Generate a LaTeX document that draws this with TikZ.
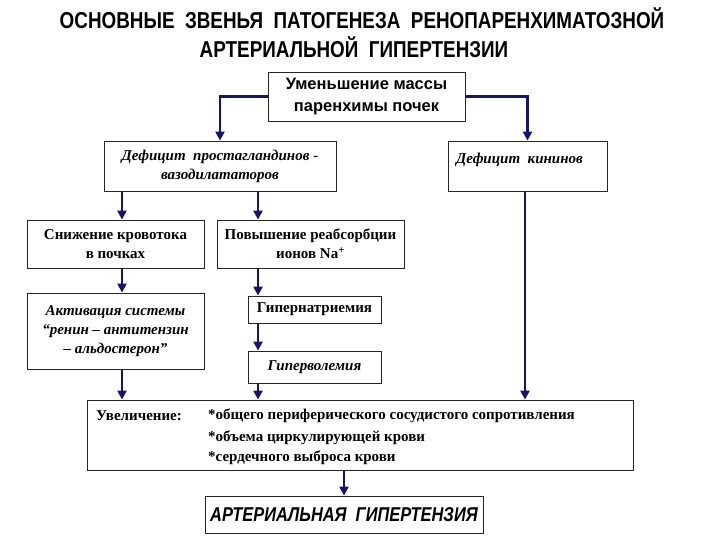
\documentclass[tikz,border=0pt]{standalone}
\usepackage{fontspec}
\setmainfont{Liberation Serif}
\newfontfamily\narrowsans[FakeStretch=0.82]{Liberation Sans}
\newfontfamily\plainsans{Liberation Sans}
\usetikzlibrary{arrows.meta}
\definecolor{navy}{RGB}{20,20,110}
\tikzset{
  box/.style={draw=black!85, line width=0.8pt, fill=white, inner sep=2pt, align=center},
  arr/.style={draw=navy, line width=2.8pt, -{Triangle[length=9pt,width=9pt]}},
  ser/.style={font=\fontsize{15}{19}\selectfont\bfseries},
  seri/.style={font=\fontsize{15}{19}\selectfont\bfseries\itshape},
  txt/.style={inner sep=0pt, anchor=west}
}
\begin{document}
\begin{tikzpicture}[x=1pt,y=-1pt]
\useasboundingbox[fill=white] (0,0) rectangle (720,540);
% title
\node[inner sep=0pt, font=\narrowsans\fontsize{23}{27}\selectfont\bfseries] (t1) at (362,18) {ОСНОВНЫЕ\ \ ЗВЕНЬЯ\ \ ПАТОГЕНЕЗА\ \ РЕНОПАРЕНХИМАТОЗНОЙ};
\node[inner sep=0pt, font=\narrowsans\fontsize{23}{27}\selectfont\bfseries] (t2) at (354,47) {АРТЕРИАЛЬНОЙ\ \ ГИПЕРТЕНЗИИ};
% boxes
\node[box, minimum width=197, minimum height=49, font=\plainsans\fontsize{16.5}{22}\selectfont\bfseries] (top) at (366.5,96.5) {Уменьшение массы\\паренхимы почек};
\node[box, seri, minimum width=232, minimum height=50] (prost) at (220,166) {Дефицит\ \ простагландинов -\\вазодилататоров};
\node[box, minimum width=159, minimum height=50] (kinin) at (527.5,166) {};
\node[txt, seri] (kinint) at (456,160) {Дефицит\ \ кининов};
\node[box, ser, minimum width=177, minimum height=48] (snizh) at (115.5,244) {Снижение кровотока\\в почках};
\node[box, ser, minimum width=187, minimum height=48] (povysh) at (310.5,244) {Повышение реабсорбции\\ионов Na\textsuperscript{+}};
\node[box, seri, minimum width=177, minimum height=76] (aktiv) at (115.5,331) {Активация системы\\“ренин – антитензин\\– альдостерон”};
\node[box, ser, minimum width=133, minimum height=27] (gipernat) at (314.5,309.5) {Гипернатриемия};
\node[box, seri, minimum width=133, minimum height=32] (gipervol) at (314.5,367) {Гиперволемия};
\node[box, minimum width=546, minimum height=70] (big) at (360,435) {};
\node[txt, ser] (uvel) at (96,416) {Увеличение:};
\node[txt, ser] (i1) at (208,416) {*общего периферического сосудистого сопротивления};
\node[txt, ser] (i2) at (208,438) {*объема циркулирующей крови};
\node[txt, ser] (i3) at (208,458) {*сердечного выброса крови};
\node[box, minimum width=278, minimum height=37, font=\narrowsans\fontsize{20}{24}\selectfont\bfseries\itshape] (final) at (344,514.5) {АРТЕРИАЛЬНАЯ\ \ ГИПЕРТЕНЗИЯ};
% arrow columns
\coordinate (xa) at (122,0);
\coordinate (xb) at (258,0);
\coordinate (xc) at (525,0);
% connectors
\draw[arr] (top.west) -| (prost.north);
\draw[arr] (top.east) -| (kinin.north);
\draw[arr] (prost.south -| xa) -- (snizh.north -| xa);
\draw[arr] (snizh.south -| xa) -- (aktiv.north -| xa);
\draw[arr] (aktiv.south -| xa) -- (big.north -| xa);
\draw[arr] (prost.south -| xb) -- (povysh.north -| xb);
\draw[arr] (povysh.south -| xb) -- (gipernat.north -| xb);
\draw[arr] (gipernat.south -| xb) -- (gipervol.north -| xb);
\draw[arr] (gipervol.south -| xb) -- (big.north -| xb);
\draw[arr] (kinin.south -| xc) -- (big.north -| xc);
\draw[arr] (big.south -| final.north) -- (final.north);
\end{tikzpicture}
\end{document}
